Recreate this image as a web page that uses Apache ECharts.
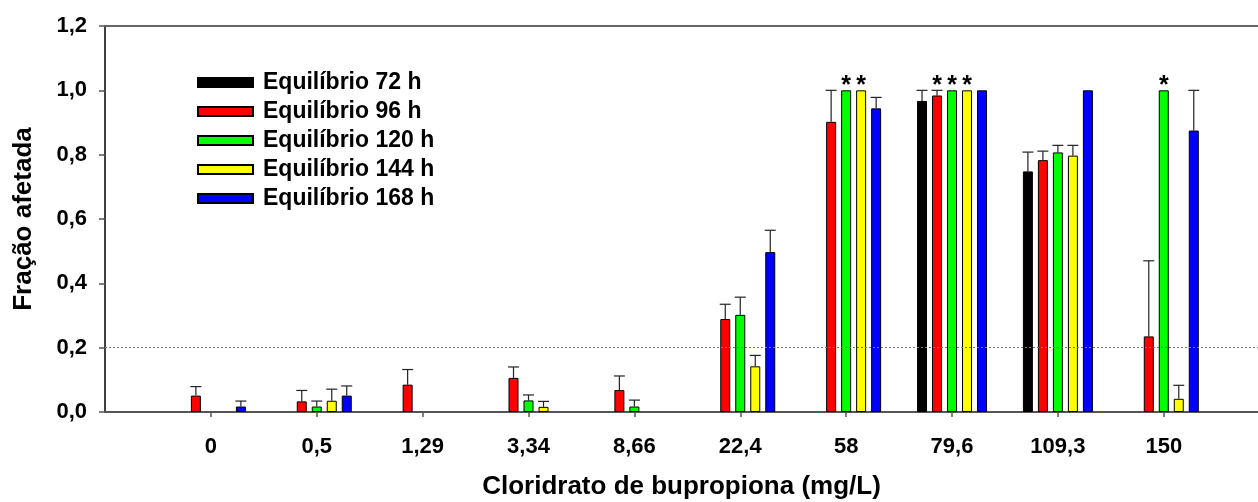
<!DOCTYPE html>
<html>
<head>
<meta charset="utf-8">
<script src="https://cdn.jsdelivr.net/npm/echarts@6/dist/echarts.min.js"></script>
<style>
  html, body { margin: 0; padding: 0; background: #fff; }
  #chart { width: 1258px; height: 502px; }
</style>
</head>
<body>
<div id="chart"></div>
<script>
// Concentrations of bupropion hydrochloride (mg/L), one group of bars per concentration
const categories = ['0', '0,5', '1,29', '3,34', '8,66', '22,4', '58', '79,6', '109,3', '150'];

// Series names
const seriesNames = ['Equilíbrio 72 h', 'Equilíbrio 96 h', 'Equilíbrio 120 h', 'Equilíbrio 144 h', 'Equilíbrio 168 h'];
const seriesColors = ['#000000', '#ff0000', '#00ff00', '#ffff00', '#0000ff'];

// Affected fraction (mean); null = no bar
const eq72 = [null, null, null, null, null, null, null, 0.967, 0.748, null];
const eq96 = [0.051, 0.033, 0.085, 0.106, 0.068, 0.289, 0.902, 0.984, 0.783, 0.235];
const eq120 = [null, 0.017, null, 0.036, 0.017, 0.302, 1.0, 1.0, 0.807, 1.0];
const eq144 = [null, 0.035, null, 0.016, null, 0.142, 1.0, 1.0, 0.797, 0.041];
const eq168 = [0.017, 0.051, null, null, null, 0.497, 0.944, 1.0, 1.0, 0.875];

// Upper error (standard deviation)
const err72 = [null, null, null, null, null, null, null, 0.033, 0.060, null];
const err96 = [0.028, 0.034, 0.047, 0.034, 0.044, 0.046, 0.098, 0.016, 0.028, 0.235];
const err120 = [null, 0.017, null, 0.017, 0.020, 0.055, 0, 0, 0.022, 0];
const err144 = [null, 0.036, null, 0.017, null, 0.034, 0, 0, 0.032, 0.042];
const err168 = [0.017, 0.030, null, null, null, 0.068, 0.034, 0, 0, 0.125];

// Concentrations marked with an asterisk, per series
const stars72 = [];
const stars96 = ['79,6'];
const stars120 = ['58', '79,6', '150'];
const stars144 = ['58', '79,6'];
const stars168 = [];

// Y tick values
const yTicks = [0, 0.2, 0.4, 0.6, 0.8, 1.0, 1.2];
const refLine = 0.2;

const means = [eq72, eq96, eq120, eq144, eq168];
const errors = [err72, err96, err120, err144, err168];
const stars = [stars72, stars96, stars120, stars144, stars168];

const FONT = "'Liberation Sans', Arial, sans-serif";
const BAR_W = 10;
const BAR_STEP = 15; // bar width + gap between neighbouring bars
const xPositions = categories.map((c, i) => i + 1);
const X_MAX = 10.89;

const barSeries = means.map((vals, s) => ({
  name: seriesNames[s],
  type: 'bar',
  xAxisIndex: 0,
  barWidth: BAR_W,
  barGap: '50%',
  itemStyle: { color: seriesColors[s], borderColor: '#000', borderWidth: 1 },
  data: vals.map((v, i) => v == null ? null : [i + 1, v]).filter(d => d),
  z: 2
}));

// dotted reference line at 0.2
barSeries[1].markLine = {
  silent: true,
  symbol: 'none',
  label: { show: false },
  lineStyle: { type: [2, 2], color: '#777', width: 1 },
  data: [{ yAxis: refLine }]
};

const errData = [];
means.forEach((vals, s) => {
  vals.forEach((v, i) => {
    const e = errors[s][i];
    if (v != null && e) errData.push([i + 1, v, e, s]);
  });
});

const starData = [];
means.forEach((vals, s) => {
  stars[s].forEach(cat => {
    const i = categories.indexOf(cat);
    starData.push([i + 1, vals[i] + (errors[s][i] || 0), s]);
  });
});

const errorSeries = {
  type: 'custom',
  name: 'erro',
  xAxisIndex: 0,
  z: 5,
  silent: true,
  data: errData,
  renderItem: function (params, api) {
    const x = api.value(0), y = api.value(1), e = api.value(2), s = api.value(3);
    const base = api.coord([x, y]);
    const top = api.coord([x, y + e]);
    const px = base[0] + (s - 2) * BAR_STEP;
    const half = 5.5;
    return {
      type: 'group',
      children: [
        { type: 'line', shape: { x1: px, y1: base[1], x2: px, y2: top[1] }, style: { stroke: '#222', lineWidth: 1.2 } },
        { type: 'line', shape: { x1: px - half, y1: top[1], x2: px + half, y2: top[1] }, style: { stroke: '#222', lineWidth: 1.2 } }
      ]
    };
  }
};

const starSeries = {
  type: 'custom',
  name: 'sig',
  xAxisIndex: 0,
  z: 5,
  silent: true,
  data: starData,
  renderItem: function (params, api) {
    const x = api.value(0), y = api.value(1), s = api.value(2);
    const p = api.coord([x, y]);
    return {
      type: 'text',
      style: {
        x: p[0] + (s - 2) * BAR_STEP,
        y: p[1] + 8,
        text: '*',
        fill: '#000',
        font: 'bold 25px ' + FONT,
        align: 'center',
        verticalAlign: 'bottom'
      }
    };
  }
};

const chart = echarts.init(document.getElementById('chart'), null, { renderer: 'canvas' });
chart.setOption({
  animation: false,
  backgroundColor: '#fff',
  grid: { left: 105, right: 0, top: 26, bottom: 90, containLabel: false, outerBoundsMode: 'none' },
  legend: {
    orient: 'vertical',
    left: 197,
    top: 71,
    padding: 0,
    icon: 'rect',
    itemWidth: 55,
    itemHeight: 9,
    itemGap: 6,
    data: seriesNames,
    selectedMode: false,
    textStyle: { fontFamily: FONT, fontWeight: 'bold', fontSize: 23, color: '#000', lineHeight: 23, padding: [0, 0, 0, 5] }
  },
  xAxis: [
    {
      type: 'value',
      min: 0,
      max: X_MAX,
      interval: 1,
      name: 'Cloridrato de bupropiona (mg/L)',
      nameLocation: 'middle',
      nameGap: 62,
      nameTextStyle: { fontFamily: FONT, fontWeight: 'bold', fontSize: 26, color: '#000' },
      axisLine: { show: true, onZero: false, lineStyle: { color: '#555', width: 2 } },
      axisTick: { show: true, length: 5, customValues: xPositions, lineStyle: { color: '#555', width: 1.5 } },
      axisLabel: {
        customValues: xPositions,
        margin: 24,
        fontFamily: FONT, fontWeight: 'bold', fontSize: 22, color: '#000',
        formatter: v => (Number.isInteger(v) && v >= 1 && v <= categories.length) ? categories[v - 1] : ''
      },
      splitLine: { show: false }
    },
    {
      type: 'value',
      position: 'top',
      min: 0,
      max: X_MAX,
      axisLine: { show: true, onZero: false, lineStyle: { color: '#666', width: 2 } },
      axisTick: { show: false },
      axisLabel: { show: false },
      splitLine: { show: false }
    }
  ],
  yAxis: {
    type: 'value',
    min: yTicks[0],
    max: yTicks[yTicks.length - 1],
    interval: 0.2,
    name: 'Fração afetada',
    nameLocation: 'middle',
    nameGap: 68,
    nameTextStyle: { fontFamily: FONT, fontWeight: 'bold', fontSize: 26, color: '#000' },
    axisLine: { show: true, lineStyle: { color: '#000', width: 1.5 } },
    axisTick: { show: true, length: 6, lineStyle: { color: '#555', width: 1.5 } },
    axisLabel: {
      margin: 18,
      fontFamily: FONT, fontWeight: 'bold', fontSize: 22, color: '#000',
      formatter: v => v.toFixed(1).replace('.', ',')
    },
    splitLine: { show: false }
  },
  series: [...barSeries, errorSeries, starSeries]
});
</script>
</body>
</html>
